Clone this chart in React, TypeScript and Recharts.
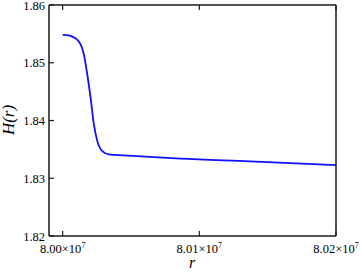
import { LineChart, Line, XAxis, YAxis } from 'recharts';

// r values (offset from 8e7 added below) and H(r)
const rOffsets = [0, 3000, 7080, 11900, 15550, 18030, 20440, 22850, 25330, 28980, 33800, 44740, 86130, 137200, 200000];
const hValues = [1.85483, 1.8548, 1.85453, 1.85367, 1.85138, 1.84793, 1.84391, 1.83931, 1.83643, 1.83471, 1.83414, 1.83397, 1.8334, 1.83293, 1.83229];

const xTicks = [80000000, 80100000, 80200000];
const yTicks = [1.82, 1.83, 1.84, 1.85, 1.86];

const data = rOffsets.map((o, i) => ({ r: 80000000 + o, h: hValues[i] }));

const FONT = 'Liberation Serif, Times New Roman, serif';
const AXIS = '#1a1a1a';
const TICK = 5;

// ticks point inward, so the tick lines are drawn here
function XTick({ x, y, payload }: any) {
  const mant = (payload.value / 1e7).toFixed(2);
  return (
    <g>
      <line x1={x} x2={x} y1={y} y2={y - TICK} stroke={AXIS} strokeWidth={1.2} />
      <text x={x} y={y + 17} textAnchor="middle" style={{ fontFamily: FONT }} fontSize={12.5} fill="#000">
        <tspan>{mant}×10</tspan>
        <tspan dy={-5} fontSize={8}>7</tspan>
      </text>
    </g>
  );
}

function YTick({ x, y, payload }: any) {
  return (
    <g>
      <line x1={x} x2={x + TICK} y1={y} y2={y} stroke={AXIS} strokeWidth={1.2} />
      <text x={x - 4} y={y} dy={4.5} textAnchor="end" style={{ fontFamily: FONT }} fontSize={12.5} fill="#000">
        {payload.value.toFixed(2)}
      </text>
    </g>
  );
}

function TopTick({ x, y }: any) {
  return <line x1={x} x2={x} y1={y} y2={y + TICK} stroke={AXIS} strokeWidth={1.2} />;
}

function RightTick({ x, y }: any) {
  return <line x1={x} x2={x - TICK} y1={y} y2={y} stroke={AXIS} strokeWidth={1.2} />;
}

export default function App() {
  return (
    <div style={{ position: 'absolute', left: 0, top: 0, width: 361, height: 273, background: '#fff' }}>
      <LineChart width={361} height={273} data={data} margin={{ top: 4, right: 24, left: 0, bottom: 0 }}>
        <XAxis
          dataKey="r"
          type="number"
          domain={[79990000, 80200000]}
          ticks={xTicks}
          interval={0}
          height={37}
          tickSize={0}
          tickMargin={0}
          tickLine={false}
          tick={XTick}
          stroke={AXIS}
          strokeWidth={1.5}
          label={{
            content: () => (
              <text x={192} y={268} textAnchor="middle" style={{ fontFamily: FONT }} fontStyle="italic" fontSize={16} fill="#000">
                r
              </text>
            ),
          }}
        />
        <XAxis
          xAxisId="top"
          orientation="top"
          dataKey="r"
          type="number"
          domain={[79990000, 80200000]}
          ticks={xTicks}
          interval={0}
          height={1}
          tickSize={0}
          tickMargin={0}
          tickLine={false}
          tick={TopTick}
          stroke={AXIS}
          strokeWidth={1.5}
        />
        <YAxis
          type="number"
          domain={[1.82, 1.86]}
          ticks={yTicks}
          interval={0}
          width={49}
          tickSize={0}
          tickMargin={0}
          tickLine={false}
          tick={YTick}
          stroke={AXIS}
          strokeWidth={1.5}
          label={{
            content: () => (
              <text
                x={14}
                y={120}
                transform="rotate(-90 14 120)"
                textAnchor="middle"
                style={{ fontFamily: FONT }}
                fontStyle="italic"
                fontSize={17}
                fill="#000"
              >
                H(r)
              </text>
            ),
          }}
        />
        <YAxis
          yAxisId="right"
          orientation="right"
          type="number"
          domain={[1.82, 1.86]}
          ticks={yTicks}
          interval={0}
          width={1}
          tickSize={0}
          tickMargin={0}
          tickLine={false}
          tick={RightTick}
          stroke={AXIS}
          strokeWidth={1.5}
        />
        <Line
          type="monotone"
          dataKey="h"
          stroke="#0f0fff"
          strokeWidth={1.8}
          dot={false}
          isAnimationActive={false}
        />
      </LineChart>
    </div>
  );
}
